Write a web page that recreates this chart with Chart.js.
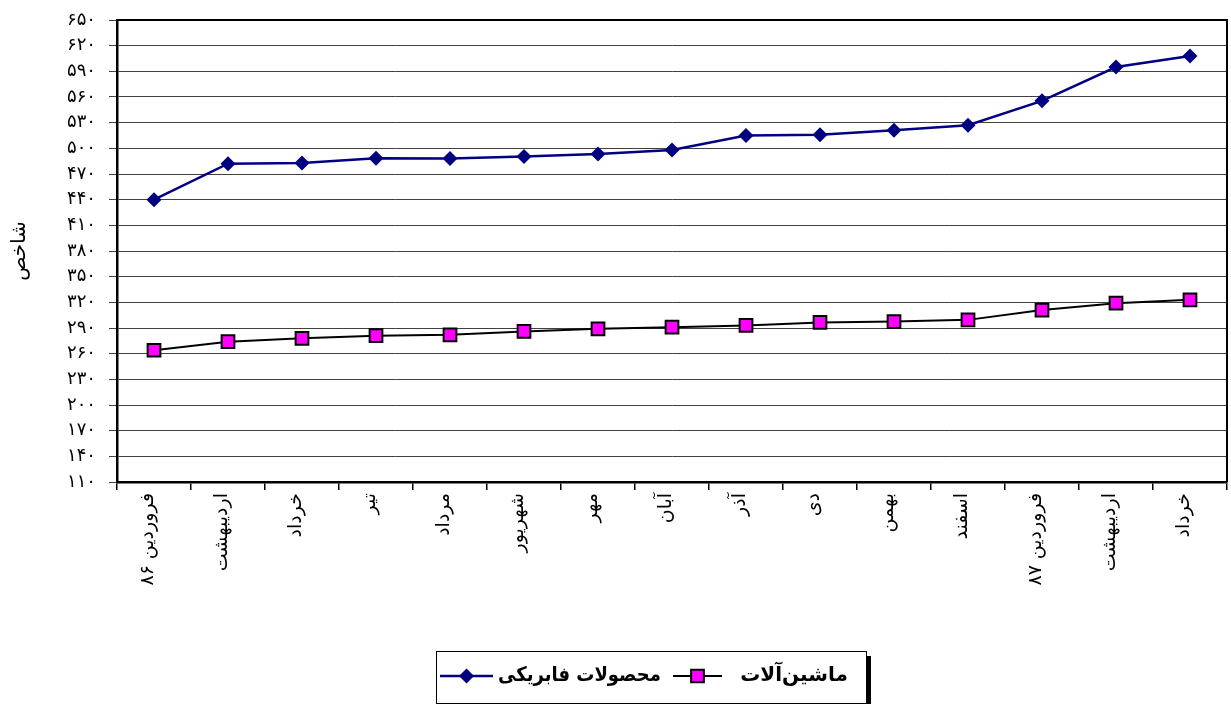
<!DOCTYPE html>
<html>
<head>
<meta charset="utf-8">
<script src="https://cdn.jsdelivr.net/npm/chart.js@4"></script>
<style>
  html, body { margin: 0; padding: 0; background: #fff; }
  #wrap { width: 1231px; height: 704px; }
</style>
</head>
<body>
<div id="wrap"><canvas id="indexChart" width="1231" height="704"></canvas></div>
<script>
const months = ["فروردین ۸۶", "اردیبهشت", "خرداد", "تیر", "مرداد", "شهریور", "مهر", "آبان", "آذر", "دی", "بهمن", "اسفند", "فروردین ۸۷", "اردیبهشت", "خرداد"];
const fabricated = [440, 482, 483, 488.5, 488, 490.5, 493.5, 498, 515, 516, 521, 527, 555.5, 595, 608];
const machinery = [264, 274, 278, 281, 282, 286, 289, 291, 293, 296.5, 297.5, 299.5, 311, 319, 323];
const seriesNames = ["محصولات فابریکی", "ماشین‌آلات"];
const yTitle = "شاخص";

const FONT = "'DejaVu Sans', sans-serif";

// western digits -> persian digits
function toPersian(n) {
  const fa = "۰۱۲۳۴۵۶۷۸۹";
  return String(n).replace(/[0-9]/g, (d) => fa[d]);
}

// frame on top/right of plot + boxed legend under the axis
const frameAndLegend = {
  id: "frameAndLegend",
  afterDraw(chart) {
    const ctx = chart.ctx;
    const a = chart.chartArea;
    ctx.save();
    ctx.strokeStyle = "#000";
    ctx.lineWidth = 2;
    ctx.beginPath();
    ctx.moveTo(a.left, a.top);
    ctx.lineTo(a.right, a.top);
    ctx.lineTo(a.right, a.bottom);
    ctx.stroke();

    // legend box with shadow
    const bx = 436, by = 651, bw = 430, bh = 52;
    ctx.fillStyle = "#000";
    ctx.fillRect(bx + 5, by + 5, bw, bh);
    ctx.fillStyle = "#fff";
    ctx.fillRect(bx, by, bw, bh);
    ctx.strokeStyle = "#000";
    ctx.lineWidth = 1;
    ctx.strokeRect(bx + 0.5, by + 0.5, bw, bh);

    const cy = by + 25;
    const ds = chart.data.datasets;
    const items = [
      { x1: 440, x2: 493, tx: 498, tw: 163 },
      { x1: 673, x2: 722, tx: 731, tw: 126 },
    ];
    items.forEach((it, i) => {
      const d = ds[i];
      ctx.strokeStyle = d.borderColor;
      ctx.lineWidth = d.borderWidth;
      ctx.beginPath();
      ctx.moveTo(it.x1, cy);
      ctx.lineTo(it.x2, cy);
      ctx.stroke();
      ctx.fillStyle = d.pointBackgroundColor;
      ctx.strokeStyle = d.pointBorderColor;
      ctx.lineWidth = d.pointBorderWidth;
      Chart.helpers.drawPoint(ctx, {
        pointStyle: d.pointStyle,
        radius: d.pointRadius,
        borderWidth: d.pointBorderWidth,
        rotation: 0,
      }, (it.x1 + it.x2) / 2, cy);
      ctx.fillStyle = "#000";
      ctx.font = "bold 20px " + FONT;
      ctx.textAlign = "center";
      ctx.textBaseline = "middle";
      ctx.fillText(d.label, it.tx + it.tw / 2, cy, it.tw);
    });
    ctx.restore();
  },
};

const chart = new Chart(document.getElementById("indexChart").getContext("2d"), {
  type: "line",
  data: {
    labels: months,
    datasets: [
      {
        label: seriesNames[0],
        data: fabricated,
        borderColor: "#000080",
        backgroundColor: "#000080",
        borderWidth: 2.5,
        pointStyle: "rectRot",
        pointRadius: 7.5,
        pointBorderWidth: 0,
        pointBackgroundColor: "#000080",
        pointBorderColor: "#000080",
        tension: 0,
      },
      {
        label: seriesNames[1],
        data: machinery,
        borderColor: "#000",
        backgroundColor: "#ff00ff",
        borderWidth: 2,
        pointStyle: "rect",
        pointRadius: 9,
        pointBorderWidth: 2,
        pointBackgroundColor: "#ff00ff",
        pointBorderColor: "#000",
        tension: 0,
      },
    ],
  },
  options: {
    responsive: false,
    animation: false,
    layout: { autoPadding: false, padding: { top: 20, right: 4, bottom: 0, left: 0 } },
    plugins: {
      legend: { display: false },
      tooltip: { enabled: false },
    },
    scales: {
      x: {
        offset: true,
        grid: {
          offset: true,
          drawOnChartArea: false,
          drawTicks: true,
          tickLength: 8,
          color: "#000",
          lineWidth: 1.5,
        },
        border: { color: "#000", width: 2.5 },
        ticks: {
          autoSkip: false,
          maxRotation: 90,
          minRotation: 90,
          labelOffset: -6,
          padding: 3,
          color: "#000",
          font: { family: FONT, size: 19 },
        },
        afterFit(scale) {
          scale.height = 222;
          scale.paddingLeft = 0;
          scale.paddingRight = 0;
        },
      },
      y: {
        min: 110,
        max: 650,
        ticks: {
          stepSize: 30,
          padding: 13,
          color: "#000",
          font: { family: FONT, size: 18 },
          callback: (v) => toPersian(v),
        },
        grid: {
          color: "#404040",
          lineWidth: 1,
          tickLength: 8,
        },
        border: { color: "#000", width: 2.5 },
        title: {
          display: true,
          text: yTitle,
          color: "#000",
          font: { family: FONT, size: 20 },
          padding: { top: 8, bottom: 0 },
        },
        afterFit(scale) {
          scale.width = 117;
          scale.paddingTop = 0;
          scale.paddingBottom = 0;
        },
      },
    },
  },
  plugins: [frameAndLegend],
});
</script>
</body>
</html>
